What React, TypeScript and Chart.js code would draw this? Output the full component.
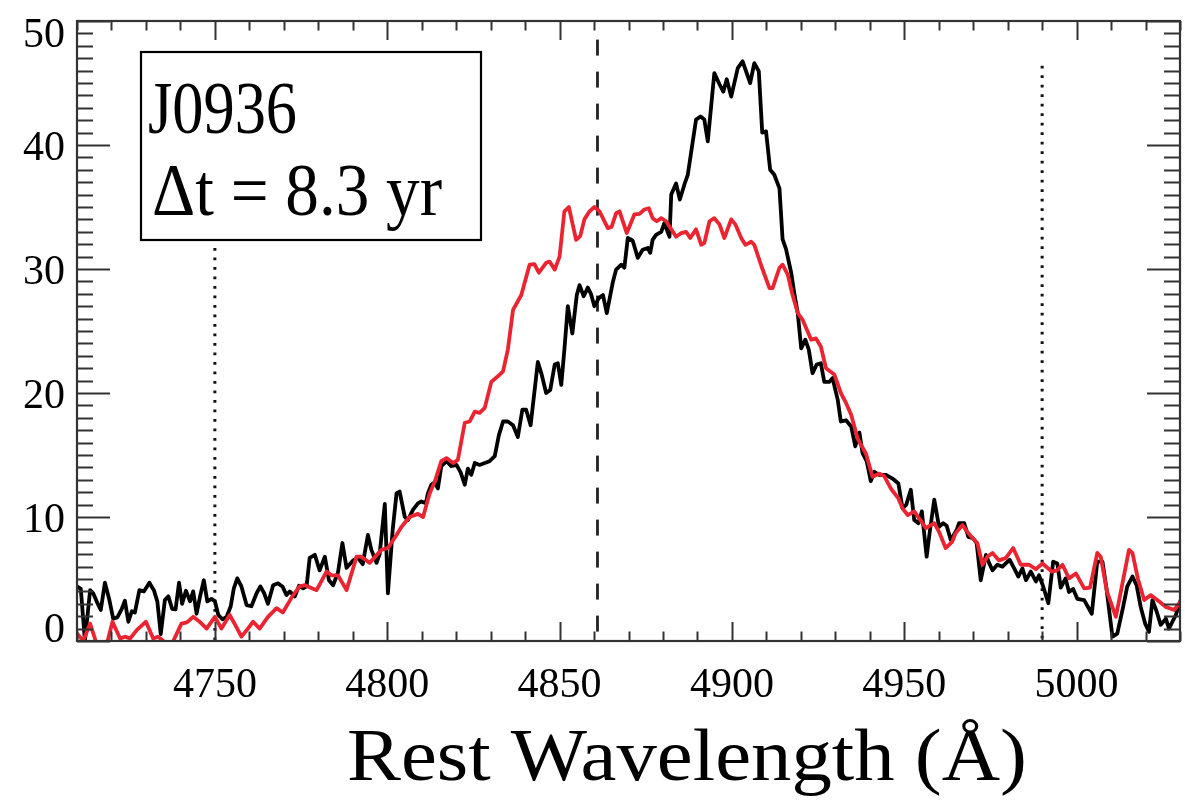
import { useEffect, useRef } from "react";
import { Chart, registerables } from "chart.js";

Chart.register(...registerables);

// Rest-frame wavelength grid (Å) and flux of the earlier (black) epoch
const blackWave = [
  4710.0, 4711.1, 4712.3, 4713.8, 4714.7, 4715.7, 4716.9, 4718.1, 4719.4, 4720.5,
  4721.7, 4723.0, 4723.9, 4724.9, 4725.9, 4726.8, 4728.1, 4729.4, 4731.0, 4732.3,
  4733.3, 4734.3, 4735.5, 4736.5, 4737.6, 4738.6, 4739.6, 4740.5, 4741.6, 4742.8,
  4743.7, 4744.7, 4745.7, 4746.8, 4747.8, 4749.0, 4750.0, 4751.0, 4752.2, 4753.4,
  4754.6, 4755.5, 4756.5, 4757.7, 4759.2, 4760.6, 4762.1, 4763.2, 4764.3, 4765.4,
  4766.9, 4768.3, 4769.6, 4770.8, 4771.7, 4773.2, 4774.4, 4775.6, 4776.6, 4777.5,
  4779.0, 4780.4, 4781.9, 4783.1, 4784.3, 4785.7, 4787.0, 4788.2, 4790.1, 4791.5,
  4792.9, 4794.4, 4795.4, 4796.9, 4797.8, 4799.3, 4800.2, 4801.6, 4802.7, 4803.6,
  4805.1, 4806.0, 4807.5, 4808.9, 4809.9, 4811.2, 4811.8, 4812.8, 4813.8, 4814.7,
  4815.7, 4817.2, 4818.6, 4820.1, 4821.3, 4822.5, 4823.4, 4824.4, 4825.4, 4826.8,
  4828.3, 4829.7, 4831.2, 4832.4, 4833.6, 4835.0, 4836.5, 4837.9, 4839.2, 4840.3,
  4841.6, 4843.7, 4844.8, 4846.1, 4847.3, 4848.6, 4849.5, 4850.5, 4851.4, 4852.4,
  4853.7, 4855.0, 4855.8, 4857.0, 4858.2, 4859.1, 4860.1, 4861.4, 4862.6, 4863.7,
  4865.5, 4866.4, 4867.9, 4868.8, 4869.8, 4871.2, 4872.7, 4874.1, 4875.6, 4876.3,
  4877.0, 4878.0, 4879.5, 4880.4, 4881.9, 4882.4, 4883.8, 4884.9, 4886.2, 4887.2,
  4889.6, 4890.9, 4892.0, 4893.0, 4894.9, 4896.4, 4897.5, 4898.5, 4899.8, 4901.7,
  4903.1, 4905.3, 4906.5, 4907.8, 4908.8, 4909.9, 4911.1, 4912.3, 4913.8, 4914.7,
  4915.7, 4917.2, 4918.1, 4919.1, 4920.1, 4921.3, 4922.3, 4923.4, 4924.6, 4925.8,
  4926.8, 4928.3, 4929.2, 4930.7, 4931.6, 4933.1, 4934.6, 4935.8, 4937.0, 4937.9,
  4939.1, 4940.3, 4941.3, 4942.7, 4944.7, 4946.6, 4948.3, 4949.5, 4950.6, 4951.9,
  4952.9, 4954.1, 4955.1, 4956.5, 4957.4, 4958.7, 4960.1, 4961.3, 4962.3, 4963.5,
  4965.2, 4965.9, 4967.4, 4968.6, 4969.9, 4971.0, 4972.2, 4973.7, 4974.6, 4975.6,
  4977.0, 4978.5, 4979.6, 4980.6, 4981.9, 4983.1, 4984.3, 4985.3, 4986.7, 4988.2,
  4989.1, 4990.3, 4991.8, 4993.2, 4994.4, 4995.4, 4996.8, 4997.8, 4999.0, 5000.2,
  5002.2, 5004.4, 5006.0, 5007.5, 5008.6, 5010.4, 5011.8, 5013.5, 5014.7, 5016.2,
  5017.4, 5018.6, 5019.9, 5021.0, 5022.0, 5023.2, 5024.4, 5025.9, 5026.8, 5028.8, 5030.2,
];
const blackFlux = [
  4.4, 4.2, 0.0, 4.1, 3.85, 3.2, 2.5, 4.7, 3.3, 1.8,
  1.9, 2.6, 3.25, 1.55, 2.4, 2.3, 4.1, 4.0, 4.7, 4.1,
  3.2, 0.56, 3.3, 3.6, 2.6, 2.55, 4.7, 3.0, 4.05, 3.2,
  4.0, 2.2, 3.6, 4.9, 3.2, 3.4, 3.2, 2.1, 1.75, 1.95,
  2.8, 4.25, 5.05, 4.4, 2.9, 2.8, 3.85, 4.4, 3.85, 3.0,
  4.5, 4.65, 4.4, 3.7, 4.0, 3.6, 4.45, 4.25, 4.4, 6.7,
  6.95, 5.7, 6.8, 4.9, 4.5, 5.5, 7.9, 5.9, 6.5, 6.7,
  6.2, 8.55, 7.35, 6.3, 7.0, 11.05, 3.85, 9.0, 11.9, 12.05,
  10.0, 9.75, 10.6, 11.1, 11.25, 11.1, 11.9, 12.6, 12.8, 12.3,
  14.1, 14.5, 14.1, 14.2, 13.6, 12.6, 13.9, 13.4, 14.35, 14.2,
  14.35, 14.5, 14.9, 16.6, 17.7, 17.7, 17.4, 16.45, 18.65, 18.65,
  17.4, 22.5, 21.5, 20.0, 20.25, 22.3, 22.4, 20.65, 23.5, 27.0,
  24.8, 27.9, 28.7, 27.8, 28.5, 28.0, 27.0, 27.65, 27.9, 26.45,
  29.0, 29.95, 30.35, 30.1, 32.5, 32.3, 30.9, 31.55, 31.7, 31.3,
  32.35, 32.75, 33.0, 33.7, 32.6, 36.0, 36.9, 35.6, 36.8, 37.6,
  42.05, 42.3, 42.05, 40.3, 45.8, 44.9, 44.3, 45.3, 43.9, 46.2,
  46.75, 45.0, 46.6, 45.95, 41.0, 41.1, 38.0, 37.6, 36.5, 32.4,
  31.6, 29.7, 28.05, 26.45, 23.6, 24.3, 23.5, 21.6, 22.3, 22.4,
  20.9, 20.9, 21.2, 19.45, 17.7, 17.8, 17.3, 15.7, 16.8, 15.15,
  14.5, 12.9, 13.65, 13.4, 13.4, 13.1, 12.7, 10.7, 11.0, 12.2,
  9.75, 9.5, 10.45, 6.8, 8.8, 11.4, 9.2, 9.5, 9.3, 8.15,
  8.95, 9.5, 9.5, 8.4, 8.3, 7.9, 4.9, 6.95, 6.3, 5.7,
  6.15, 6.0, 6.3, 6.55, 5.85, 5.2, 5.85, 4.9, 5.6, 4.8,
  5.3, 4.4, 3.05, 6.4, 6.25, 4.3, 5.05, 3.95, 4.2, 3.4,
  3.3, 2.2, 6.4, 6.4, 4.4, 0.35, 0.6, 2.75, 4.4, 5.2,
  4.5, 2.75, 1.4, 0.75, 3.3, 2.4, 1.3, 1.8, 1.0, 2.1, 3.3,
];

// Later (red) epoch
const redWave = [
  4710.0, 4711.8, 4713.8, 4715.2, 4716.1, 4717.8, 4718.7, 4720.3, 4722.5, 4723.9,
  4725.4, 4727.4, 4730.0, 4732.1, 4733.5, 4735.5, 4736.1, 4737.6, 4740.3, 4741.9,
  4743.7, 4745.4, 4747.6, 4750.0, 4751.9, 4754.3, 4756.1, 4757.7, 4759.3, 4761.1,
  4763.0, 4765.4, 4767.9, 4769.7, 4772.7, 4774.6, 4776.1, 4779.5, 4782.4, 4783.8,
  4785.7, 4788.2, 4791.1, 4792.5, 4794.9, 4798.3, 4800.2, 4802.7, 4804.1, 4806.5,
  4808.9, 4810.4, 4812.3, 4813.8, 4815.7, 4817.2, 4819.1, 4820.5, 4822.5, 4823.9,
  4825.4, 4826.8, 4828.3, 4830.2, 4832.1, 4833.6, 4835.0, 4836.5, 4838.9, 4841.3,
  4842.7, 4844.0, 4846.1, 4847.1, 4848.6, 4850.0, 4851.4, 4852.7, 4854.8, 4856.0,
  4857.2, 4858.7, 4860.1, 4861.6, 4864.0, 4865.1, 4866.4, 4867.4, 4869.5, 4871.7,
  4873.2, 4874.6, 4875.9, 4877.0, 4878.2, 4879.5, 4880.9, 4882.4, 4883.8, 4885.3,
  4886.7, 4887.9, 4889.6, 4891.1, 4892.0, 4893.5, 4894.9, 4896.4, 4897.8, 4899.8,
  4901.0, 4902.7, 4903.9, 4905.6, 4906.5, 4908.6, 4910.9, 4911.8, 4913.8, 4914.7,
  4916.2, 4917.5, 4919.1, 4920.5, 4923.0, 4924.4, 4925.8, 4927.3, 4929.7, 4931.6,
  4933.1, 4934.6, 4936.5, 4938.9, 4940.8, 4942.8, 4944.2, 4946.1, 4948.3, 4949.5,
  4951.0, 4952.9, 4954.3, 4956.3, 4958.7, 4960.1, 4962.0, 4963.9, 4964.9, 4966.9,
  4968.3, 4969.8, 4971.2, 4972.7, 4974.1, 4975.6, 4977.5, 4979.5, 4981.6, 4983.8,
  4986.2, 4988.2, 4990.1, 4992.8, 4994.3, 4995.9, 4997.8, 4999.8, 5002.2, 5003.9,
  5006.0, 5007.0, 5008.8, 5011.4, 5013.2, 5015.2, 5016.2, 5017.8, 5019.6, 5021.5,
  5023.9, 5025.9, 5028.3, 5030.2,
];
const redFlux = [
  0.6, 0.0, 1.4, 0.2, -1.0, -1.2, -0.2, 1.55, 0.2, 0.35,
  0.2, 0.9, 1.55, 0.2, 0.35, -0.1, -0.8, -0.2, 1.4, 1.5,
  1.95, 1.6, 1.0, 1.95, 1.0, 2.1, 1.2, 0.35, 0.9, 1.55,
  1.0, 1.95, 2.65, 2.3, 3.7, 4.4, 4.5, 4.1, 5.6, 5.3,
  5.3, 4.1, 6.8, 6.8, 6.3, 7.35, 7.5, 8.55, 9.2, 10.0,
  10.25, 10.0, 11.9, 12.85, 14.5, 14.75, 14.35, 14.6, 17.6, 17.7,
  18.5, 18.4, 18.8, 20.9, 21.35, 21.75, 23.5, 26.7, 27.9, 30.35,
  30.4, 29.7, 30.5, 30.6, 29.95, 31.0, 34.65, 35.0, 32.35, 32.65,
  34.0, 34.65, 35.0, 34.65, 33.3, 33.4, 34.5, 34.65, 32.9, 34.4,
  34.45, 34.8, 34.9, 34.1, 33.85, 34.1, 33.85, 33.2, 32.6, 32.9,
  33.0, 32.5, 33.2, 31.95, 32.1, 33.85, 34.1, 33.6, 32.5, 34.0,
  33.6, 32.5, 31.95, 32.2, 31.95, 30.2, 28.45, 28.45, 30.1, 30.35,
  29.55, 28.0, 26.45, 25.9, 24.3, 24.4, 23.75, 22.0, 21.5, 20.0,
  19.2, 18.25, 16.3, 15.1, 13.25, 13.5, 13.3, 12.3, 11.5, 10.7,
  10.15, 10.45, 9.9, 9.1, 9.5, 8.8, 7.5, 8.0, 8.7, 9.35,
  8.8, 8.3, 7.9, 6.15, 6.8, 7.1, 6.5, 6.7, 7.5, 6.15,
  6.15, 5.8, 6.25, 5.6, 5.7, 6.15, 5.05, 5.45, 4.25, 4.3,
  7.1, 6.8, 4.0, 1.95, 4.5, 7.35, 7.1, 5.0, 3.3, 3.7,
  3.2, 2.75, 2.5, 3.2,
];

// Axis ranges and labelled ticks
const xRange = [4710, 5030];
const yRange = [0, 50];
const xTickLabels = [4750, 4800, 4850, 4900, 4950, 5000];
const yTickLabels = [0, 10, 20, 30, 40, 50];

// Reference lines: H-beta centre (dashed) and the two continuum windows (dotted)
const hBetaWave = 4861;
const hBetaTop = 48.5;
const windowWaves = [4750, 4990];
const windowTops = [31.7, 46.4];

const objectName = "J0936";
const epochGap = "Δt = 8.3 yr";
const xTitle = "Rest Wavelength (Å)";

const SERIF = '"Liberation Serif", "Times New Roman", serif';

function fitText(
  ctx: CanvasRenderingContext2D,
  text: string,
  left: number,
  baseline: number,
  size: number,
  width: number
) {
  ctx.save();
  ctx.font = `${size}px ${SERIF}`;
  const w = ctx.measureText(text).width;
  ctx.translate(left, baseline);
  ctx.scale(width / w, 1);
  ctx.textAlign = "left";
  ctx.textBaseline = "alphabetic";
  ctx.fillText(text, 0, 0);
  ctx.restore();
}

const framePlugin = {
  id: "idlFrame",
  afterDraw(chart: any) {
    const { ctx, chartArea: a } = chart;
    const x = chart.scales.x;
    const y = chart.scales.y;
    ctx.save();

    // frame
    ctx.strokeStyle = "#333";
    ctx.lineWidth = 2.2;
    ctx.strokeRect(a.left, a.top, a.right - a.left, a.bottom - a.top);

    // inward ticks on all four sides
    ctx.lineWidth = 2;
    ctx.beginPath();
    for (let v = xRange[0]; v <= xRange[1]; v += 10) {
      const px = Math.round(x.getPixelForValue(v)) + 0.5;
      const len = v % 50 === 0 ? 19 : 9.5;
      ctx.moveTo(px, a.bottom);
      ctx.lineTo(px, a.bottom - len);
      ctx.moveTo(px, a.top);
      ctx.lineTo(px, a.top + len);
    }
    for (let v = yRange[0]; v <= yRange[1]; v += 1) {
      const py = Math.round(y.getPixelForValue(v)) + 0.5;
      const len = v % 10 === 0 ? 33 : 16;
      ctx.moveTo(a.left, py);
      ctx.lineTo(a.left + len, py);
      ctx.moveTo(a.right, py);
      ctx.lineTo(a.right - len, py);
    }
    ctx.stroke();

    // tick labels
    ctx.fillStyle = "#000";
    ctx.font = `42px ${SERIF}`;
    ctx.textBaseline = "alphabetic";
    ctx.textAlign = "center";
    xTickLabels.forEach((v) => {
      ctx.fillText(String(v), x.getPixelForValue(v), 697);
    });
    ctx.textAlign = "right";
    yTickLabels.forEach((v) => {
      const base = Math.min(Math.max(y.getPixelForValue(v) + 14.5, 46.5), 642);
      ctx.fillText(String(v), 65, base);
    });

    // axis title
    fitText(ctx, xTitle, 347, 780, 73, 680);

    // label box
    ctx.strokeStyle = "#000";
    ctx.lineWidth = 2.2;
    ctx.strokeRect(141, 52, 340, 188);
    fitText(ctx, objectName, 148, 133, 75, 149);
    fitText(ctx, epochGap, 152, 215, 73, 290);

    ctx.restore();
  },
};

export default function App() {
  const canvasRef = useRef<HTMLCanvasElement | null>(null);

  useEffect(() => {
    const canvas = canvasRef.current;
    if (!canvas) return;

    const red = redWave.map((w, i) => ({ x: w, y: redFlux[i] }));
    const black = blackWave.map((w, i) => ({ x: w, y: blackFlux[i] }));

    const vline = (wave: number, top: number) => [
      { x: wave, y: top },
      { x: wave, y: yRange[0] },
    ];

    const chart = new Chart(canvas, {
      type: "line",
      data: {
        datasets: [
          {
            label: "later epoch",
            data: red,
            borderColor: "#ea2430",
            borderWidth: 3.8,
            pointRadius: 0,
            tension: 0,
            borderJoinStyle: "round",
            order: 1,
          },
          {
            label: "earlier epoch",
            data: black,
            borderColor: "#000000",
            borderWidth: 3.8,
            pointRadius: 0,
            tension: 0,
            borderJoinStyle: "round",
            order: 2,
          },
          {
            label: "Hβ",
            data: vline(hBetaWave, hBetaTop),
            borderColor: "#222",
            borderWidth: 2.8,
            borderDash: [16, 16],
            pointRadius: 0,
            order: 3,
          },
          ...windowWaves.map((w, i) => ({
            label: `window ${i + 1}`,
            data: vline(w, windowTops[i]),
            borderColor: "#111",
            borderWidth: 3,
            borderDash: [2.8, 6.7],
            pointRadius: 0,
            order: 3,
          })),
        ],
      },
      options: {
        responsive: false,
        animation: false,
        devicePixelRatio: 1,
        layout: { padding: { left: 77, right: 5, top: 21, bottom: 159 } },
        plugins: {
          legend: { display: false },
          tooltip: { enabled: false },
        },
        scales: {
          x: {
            type: "linear",
            min: xRange[0],
            max: xRange[1],
            display: false,
          },
          y: {
            type: "linear",
            min: yRange[0],
            max: yRange[1],
            display: false,
          },
        },
      },
      plugins: [framePlugin],
    });

    return () => chart.destroy();
  }, []);

  return (
    <div style={{ position: "absolute", left: 0, top: 0, width: 1185, height: 800, background: "#fff" }}>
      <canvas ref={canvasRef} width={1185} height={800} />
    </div>
  );
}
